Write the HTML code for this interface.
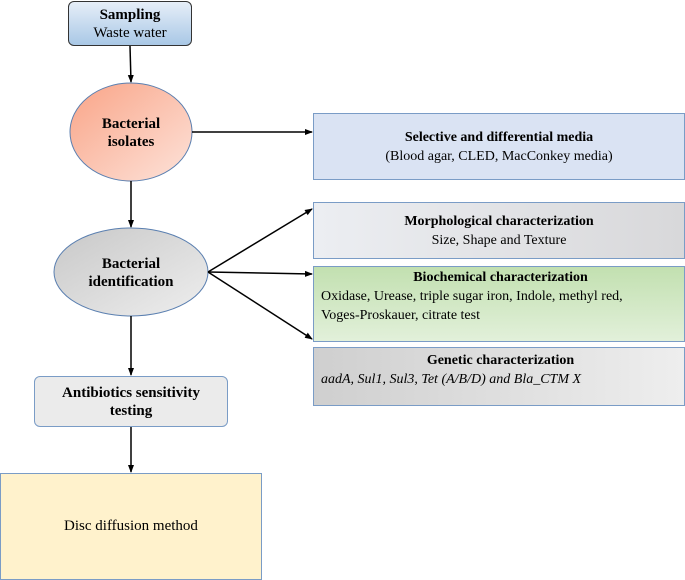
<!DOCTYPE html>
<html><head><style>
body{margin:0;width:685px;height:580px;background:#fff;position:relative;overflow:hidden;font-family:"Liberation Serif",serif;color:#000}
.b{position:absolute;box-sizing:border-box;text-align:center;display:flex;flex-direction:column;justify-content:center;align-items:stretch;line-height:19px}
.b > div{display:block}
.l{text-align:left}
</style></head><body>
<svg width="685" height="580" style="position:absolute;left:0;top:0">
<defs>
<marker id="a" markerWidth="8" markerHeight="8" refX="7" refY="4" orient="auto" markerUnits="userSpaceOnUse"><path d="M0,1 L8,4 L0,7z" fill="#000"/></marker>
<linearGradient id="o" x1="0" y1="0" x2="1" y2="1"><stop offset="0" stop-color="#f9a487"/><stop offset="1" stop-color="#fde3da"/></linearGradient>
<linearGradient id="g" x1="0" y1="0" x2="1" y2="1"><stop offset="0" stop-color="#c8c8c8"/><stop offset="1" stop-color="#eeeeee"/></linearGradient>
</defs>
<ellipse cx="131" cy="132" rx="61" ry="49" fill="url(#o)" stroke="#5a7fb0" stroke-width="1"/>
<ellipse cx="131" cy="272" rx="77" ry="44" fill="url(#g)" stroke="#5a7fb0" stroke-width="1"/>
<g stroke="#000" stroke-width="1.5" fill="none">
<line x1="130" y1="46" x2="131" y2="82" marker-end="url(#a)"/>
<line x1="192" y1="132" x2="312" y2="132" marker-end="url(#a)"/>
<line x1="131" y1="181" x2="131" y2="227" marker-end="url(#a)"/>
<line x1="208" y1="272" x2="312" y2="209" marker-end="url(#a)"/>
<line x1="208" y1="272" x2="312" y2="274" marker-end="url(#a)"/>
<line x1="208" y1="272" x2="312" y2="339" marker-end="url(#a)"/>
<line x1="131" y1="316" x2="131" y2="375" marker-end="url(#a)"/>
<line x1="131" y1="426" x2="131" y2="472" marker-end="url(#a)"/>
</g>
</svg>
<div class="b" style="left:68px;top:1px;width:124px;height:45px;border:1px solid #333;border-radius:6px;background:linear-gradient(#e6eef8,#a9c8e6);font-size:15px;line-height:18px"><div><b>Sampling</b></div><div>Waste water</div></div>
<div class="b" style="left:70px;top:108px;width:122px;height:50px;font-size:15px;font-weight:bold;line-height:18px"><div>Bacterial<br>isolates</div></div>
<div class="b" style="left:54px;top:248px;width:154px;height:50px;font-size:15px;font-weight:bold;line-height:18px"><div>Bacterial<br>identification</div></div>
<div class="b" style="left:313px;top:113px;width:372px;height:67px;border:1px solid #7a9cc6;background:#dae3f3;font-size:14px"><div><b>Selective and differential media</b></div><div>(Blood agar, CLED, MacConkey media)</div></div>
<div class="b" style="left:313px;top:202px;width:372px;height:57px;border:1px solid #7a9cc6;background:linear-gradient(90deg,#eceef2,#d8d8da);font-size:14px"><div><b>Morphological characterization</b></div><div>Size, Shape and Texture</div></div>
<div class="b" style="left:313px;top:266px;width:372px;height:76px;border:1px solid #7a9cc6;background:linear-gradient(#c2e0b0,#e2f0da);font-size:14px;justify-content:flex-start;padding:1px 4px 0 7px"><div><b>Biochemical characterization</b></div><div class="l">Oxidase, Urease, triple sugar iron, Indole, methyl red,<br>Voges-Proskauer, citrate test</div></div>
<div class="b" style="left:313px;top:347px;width:372px;height:59px;border:1px solid #7a9cc6;background:linear-gradient(90deg,#cfcfcf,#eeeeee);font-size:14px;justify-content:flex-start;padding:3px 4px 0 7px"><div><b>Genetic characterization</b></div><div class="l"><i>aadA, Sul1, Sul3</i>, <i>Tet (A/B/D) and Bla_CTM X</i></div></div>
<div class="b" style="left:34px;top:376px;width:194px;height:51px;border:1px solid #7a9cc6;border-radius:6px;background:#ebebeb;font-size:15px;font-weight:bold;line-height:18px"><div>Antibiotics sensitivity<br>testing</div></div>
<div class="b" style="left:0;top:473px;width:262px;height:107px;border:1px solid #7a9cc6;background:#fff2cc;font-size:15px"><div>Disc diffusion method</div></div>
</body></html>
